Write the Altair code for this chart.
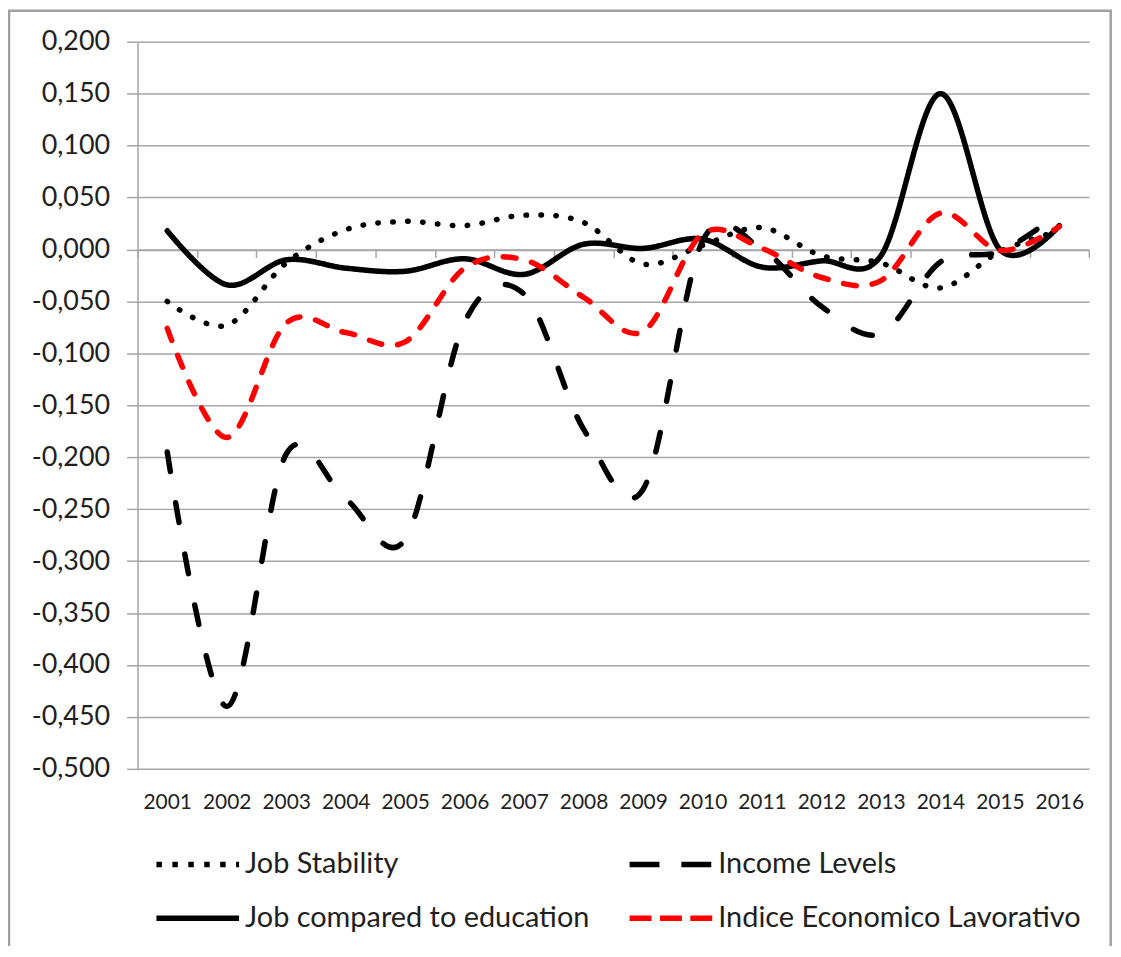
import altair as alt
import pandas as pd

years = ["2001", "2002", "2003", "2004", "2005", "2006", "2007", "2008",
         "2009", "2010", "2011", "2012", "2013", "2014", "2015", "2016"]

series_names = ["Job Stability", "Income Levels",
                "Job compared to education", "Indice Economico Lavorativo"]

job_stability = [-0.050, -0.073, -0.013, 0.019, 0.027, 0.023, 0.033, 0.026,
                 -0.014, 0.004, 0.021, -0.006, -0.013, -0.037, -0.002, 0.018]
income_levels = [-0.195, -0.440, -0.197, -0.240, -0.279, -0.070, -0.043, -0.173,
                 -0.231, 0.008, 0.000, -0.055, -0.081, -0.012, -0.002, 0.035]
job_vs_education = [0.018, -0.034, -0.010, -0.018, -0.021, -0.009, -0.024, 0.005,
                    0.001, 0.010, -0.017, -0.011, -0.006, 0.150, 0.000, 0.023]
indice_economico = [-0.076, -0.181, -0.071, -0.080, -0.089, -0.018, -0.010, -0.046,
                    -0.079, 0.015, 0.001, -0.027, -0.030, 0.035, -0.001, 0.022]

series_values = [job_stability, income_levels, job_vs_education, indice_economico]
series_colors = ["#000000", "#000000", "#000000", "#FF0000"]
# dash patterns for the plotted (round-capped) lines
line_dashes = [[0.5, 14.5], [20, 32], [1, 0], [13, 16]]
# dash patterns for the legend swatches (butt caps)
legend_dashes = [[5.5, 10.5], [30, 22], [1, 0], [22, 8.5]]

y_ticks = [round(-0.5 + 0.05 * i, 2) for i in range(15)]

rows = []
for name, vals in zip(series_names, series_values):
    for yr, v in zip(years, vals):
        rows.append({"year": yr, "series": name, "value": v})
df = pd.DataFrame(rows)

FONT = "Lato"
TXT = "#1f1f1f"
GRID = "#A6A6A6"

x_enc = alt.X("year:O", sort=years, bandPosition=0.5,
              scale=alt.Scale(type="band", domain=years, paddingInner=0, paddingOuter=0),
              axis=alt.Axis(title=None, orient="bottom", offset=-521.4,
                            domain=True, domainColor=GRID, domainWidth=1.5,
                            ticks=True, tickBand="extent", tickSize=8,
                            tickColor=GRID, tickWidth=1.5,
                            labelPadding=536, labelFont=FONT, labelFontSize=21,
                            labelColor=TXT, labelAngle=0, grid=False))
y_enc = alt.Y("value:Q",
              scale=alt.Scale(domain=[-0.5, 0.2], nice=False, zero=False),
              axis=alt.Axis(title=None, values=y_ticks,
                            labelExpr="replace(replace(format(datum.value, '.3f'), '.', ','), '−', '-')",
                            grid=True, gridColor=GRID, gridWidth=1.5,
                            domainColor=GRID, domainWidth=1.5,
                            tickColor=GRID, tickSize=11, tickWidth=1.5,
                            labelPadding=17, labelFont=FONT, labelFontSize=27,
                            labelColor=TXT))

layers = []
for name, col, dash in zip(series_names, series_colors, line_dashes):
    layers.append(
        alt.Chart(df).transform_filter(alt.datum.series == name).mark_line(
            interpolate="cardinal", tension=0, strokeWidth=5.5,
            strokeCap="round", strokeJoin="round", stroke=col, strokeDash=dash,
        ).encode(x=x_enc, y=y_enc)
    )

legend = alt.Legend(
    title=None, orient="none", legendX=16, legendY=809, columns=2,
    direction="horizontal", clipHeight=34,
    symbolType="stroke", symbolSize=6889, symbolStrokeWidth=5.5,
    labelFont=FONT, labelFontSize=29, labelColor=TXT, labelOffset=3,
    columnPadding=37, rowPadding=20, labelLimit=600,
)

legend_layer = alt.Chart(df).transform_filter("datum.value > 10").mark_line(
    strokeWidth=5.5
).encode(
    x=x_enc, y=y_enc,
    color=alt.Color("series:N", sort=series_names,
                    scale=alt.Scale(domain=series_names, range=series_colors),
                    legend=legend),
    strokeDash=alt.StrokeDash("series:N", sort=series_names,
                              scale=alt.Scale(domain=series_names, range=legend_dashes),
                              legend=legend),
)

frame = alt.Chart(pd.DataFrame({"f": [0]})).mark_rect(
    fill=None, stroke="#A0A0A0", strokeWidth=2.5
).encode(
    x=alt.value(-129), x2=alt.value(977),
    y=alt.value(-31), y2=alt.value(1300),
)

chart = alt.layer(frame, *layers, legend_layer).properties(
    width=955.3, height=730,
    autosize=alt.AutoSizeParams(type="none"),
    padding={"left": 130, "top": 32, "right": 24, "bottom": 176},
).configure_view(stroke=None)

chart.save("out.html", embed_options={"renderer": "svg", "actions": False})
